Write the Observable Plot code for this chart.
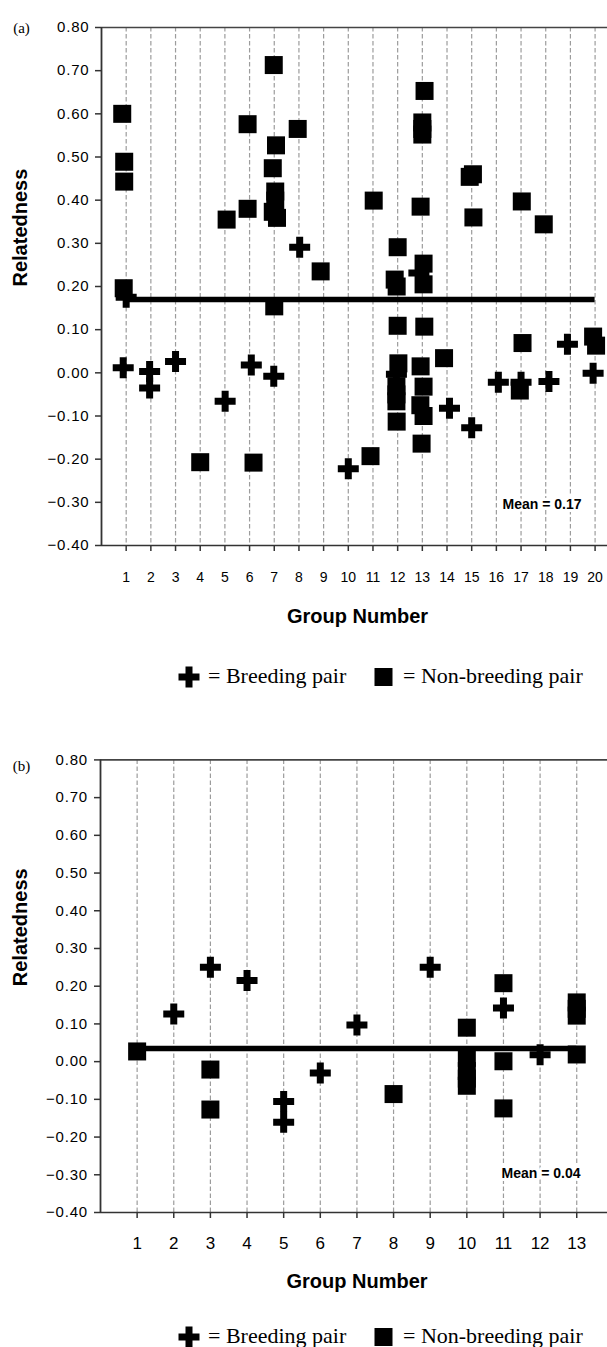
<!DOCTYPE html>
<html><head><meta charset="utf-8">
<script src="https://cdn.jsdelivr.net/npm/d3@7"></script>
<script src="https://cdn.jsdelivr.net/npm/@observablehq/plot@0.6"></script>
<style>
body{margin:0;background:#fff;}
#wrap{position:relative;width:607px;height:1347px;overflow:hidden;background:#fff;}
#wrap > svg{position:absolute;left:0;}
</style></head><body><div id="wrap"></div>
<script>
// ---- data ----
const yTicks = [0.8, 0.7, 0.6, 0.5, 0.4, 0.3, 0.2, 0.1, 0, -0.1, -0.2, -0.3, -0.4];
const aGroups = [1,2,3,4,5,6,7,8,9,10,11,12,13,14,15,16,17,18,19,20];
const bGroups = [1,2,3,4,5,6,7,8,9,10,11,12,13];

// panel (a): breeding pairs (crosses)
const aBreedX = [1, 0.88, 1.95, 1.95, 3, 5.01, 6.07, 6.98, 8.03, 10, 11.95, 12.86, 14.1, 15, 16.08, 17, 18.13, 18.88, 19.92];
const aBreedY = [0.175, 0.012, 0.003, -0.035, 0.026, -0.066, 0.018, -0.008, 0.291, -0.222, -0.003, 0.231, -0.082, -0.127, -0.022, -0.022, -0.020, 0.066, -0.001];
// panel (a): non-breeding pairs (squares)
const aNonX = [0.84, 0.92, 0.92, 0.9, 4, 5.07, 5.92, 5.92, 6.16, 6.98, 7.07, 6.94, 7.04, 7.04, 6.94, 7.11, 7, 7.95, 8.88, 11.03, 10.9, 12, 11.88, 11.96, 12, 12.03, 11.95, 11.95, 11.95, 11.96, 13.09, 13, 13, 13, 12.93, 13.05, 13.05, 13.08, 12.93, 13.05, 12.92, 13.05, 12.97, 13.88, 14.92, 15.05, 15.07, 17.03, 17.06, 16.95, 17.92, 19.92, 20.04];
const aNonY = [0.600, 0.489, 0.443, 0.196, -0.207, 0.355, 0.576, 0.380, -0.208, 0.713, 0.527, 0.474, 0.420, 0.399, 0.373, 0.359, 0.154, 0.565, 0.235, 0.399, -0.193, 0.291, 0.216, 0.200, 0.109, 0.022, -0.031, -0.050, -0.066, -0.113, 0.653, 0.580, 0.565, 0.552, 0.385, 0.253, 0.205, 0.107, 0.015, -0.032, -0.075, -0.100, -0.164, 0.034, 0.454, 0.460, 0.360, 0.397, 0.069, -0.041, 0.344, 0.084, 0.063];

// panel (b)
const bBreedX = [2, 3, 4, 5, 5, 6, 7, 9, 11, 12];
const bBreedY = [0.126, 0.250, 0.215, -0.106, -0.161, -0.030, 0.097, 0.250, 0.142, 0.018];
const bNonX = [1, 3, 3, 8, 10, 10, 10, 10, 10, 11, 11, 11, 13, 13, 13, 13];
const bNonY = [0.027, -0.021, -0.127, -0.086, 0.090, 0.010, -0.025, -0.045, -0.064, 0.208, 0.001, -0.124, 0.157, 0.140, 0.122, 0.019];

const aMean = 0.17, bMean = 0.035;
const meanLabels = ["Mean = 0.17", "Mean = 0.04"];
const panelLabels = ["(a)", "(b)"];
const legendLabels = ["= Breeding pair", "= Non-breeding pair"];
const xTitle = "Group Number", yTitle = "Relatedness";

// ---- drawing ----
const SANS = "'Liberation Sans', Arial, Helvetica, sans-serif";
const SERIF = "'Liberation Serif', 'Times New Roman', serif";
const wrap = document.getElementById("wrap");

function panel(o) {
  const idx = a => a.map((_, i) => i);
  const p = Plot.plot({
    width: 607, height: o.height,
    marginLeft: o.marginLeft, marginRight: 0, marginTop: o.marginTop, marginBottom: o.marginBottom,
    style: {fontFamily: SANS, background: "transparent", color: "#000", overflow: "visible"},
    x: {domain: [0, o.xMax], axis: null},
    y: {domain: [-0.4, 0.8], axis: null},
    marks: [
      Plot.ruleX(o.groups, {stroke: "#9c9c9c", strokeWidth: 1.2, strokeDasharray: "4.5,2.5"}),
      Plot.ruleY([0.8], {stroke: "#444", strokeWidth: 1.6}),
      Plot.ruleY([-0.4], {stroke: "#333", strokeWidth: 1.6}),
      Plot.ruleX([0], {stroke: "#333", strokeWidth: 1.8}),
      Plot.axisY({ticks: yTicks, tickSize: 6, tickPadding: o.yPad, tickFormat: d3.format(".2f"), fontSize: 15, stroke: "#333", strokeWidth: 1.5, label: null}),
      Plot.axisX({ticks: o.groups, tickSize: 6, tickPadding: o.xPad, tickFormat: d => String(d), fontSize: o.xFont, stroke: "#333", strokeWidth: 1.5, label: null}),
      Plot.ruleY([o.mean], {x1: o.meanX1, x2: o.meanX2, stroke: "#000", strokeWidth: 5.5}),
      Plot.dot(idx(o.nonX), {x: i => o.nonX[i], y: i => o.nonY[i], symbol: "square", r: 10.16, fill: "#000"}),
      Plot.dot(idx(o.breedX), {x: i => o.breedX[i], y: i => o.breedY[i], symbol: "cross", r: 8.83, fill: "#000"}),
      Plot.text([o.meanLabel], {frameAnchor: "bottom-right", dx: o.meanDx, dy: o.meanDy, textAnchor: "end", fontWeight: "bold", fontSize: 14, fill: "#000", stroke: "#fff", strokeWidth: 6}),
      Plot.text([yTitle], {frameAnchor: "left", rotate: -90, dx: o.yTitleDx, fontWeight: "bold", fontSize: 20, fill: "#000"}),
      Plot.text([xTitle], {frameAnchor: "bottom", dx: 3, dy: o.xTitleDy, fontWeight: "bold", fontSize: 20, fill: "#000"}),
      Plot.text([o.panelLabel], {frameAnchor: "top-left", dx: o.plDx, dy: o.plDy, textAnchor: "middle", fontFamily: SERIF, fontSize: 15, fill: "#000"})
    ]
  });
  p.style.top = o.top + "px";
  p.querySelectorAll('g[aria-label="y-axis tick label"] text').forEach(t => t.setAttribute("letter-spacing", "0.8"));
  wrap.appendChild(p);
}

panel({
  top: 0, height: 645, marginLeft: 101, marginTop: 27, marginBottom: 100, xMax: 20.503,
  groups: aGroups, breedX: aBreedX, breedY: aBreedY, nonX: aNonX, nonY: aNonY,
  mean: aMean, meanX1: 1, meanX2: 20, meanLabel: meanLabels[0], meanDx: -26, meanDy: -37,
  yPad: 6, xPad: 20.5, xFont: 14, yTitleDx: -81, xTitleDy: 77, panelLabel: panelLabels[0], plDx: -80, plDy: -5
});
panel({
  top: 700, height: 607, marginLeft: 100, marginTop: 59.4, marginBottom: 95, xMax: 13.84,
  groups: bGroups, breedX: bBreedX, breedY: bBreedY, nonX: bNonX, nonY: bNonY,
  mean: bMean, meanX1: 1, meanX2: 13, meanLabel: meanLabels[1], meanDx: -27, meanDy: -35,
  yPad: 6.5, xPad: 18, xFont: 17, yTitleDx: -80, xTitleDy: 75, panelLabel: panelLabels[1], plDx: -79, plDy: 0.6
});

function legend(cy) {
  const svg = d3.create("svg").attr("width", 607).attr("height", 30).style("top", (cy - 15) + "px");
  svg.append("path").attr("d", d3.symbol(d3.symbolCross, 245)()).attr("transform", "translate(189,15)").attr("fill", "#000");
  svg.append("rect").attr("x", 374.5).attr("y", 6).attr("width", 18).attr("height", 18).attr("fill", "#000");
  const t = svg.append("g").attr("font-family", SERIF).attr("font-size", 22).attr("fill", "#000");
  t.append("text").attr("x", 208).attr("y", 20.5).text(legendLabels[0]);
  t.append("text").attr("x", 403).attr("y", 20.5).text(legendLabels[1]);
  wrap.appendChild(svg.node());
}
legend(676.7);
legend(1336.7);
</script>
</body></html>
